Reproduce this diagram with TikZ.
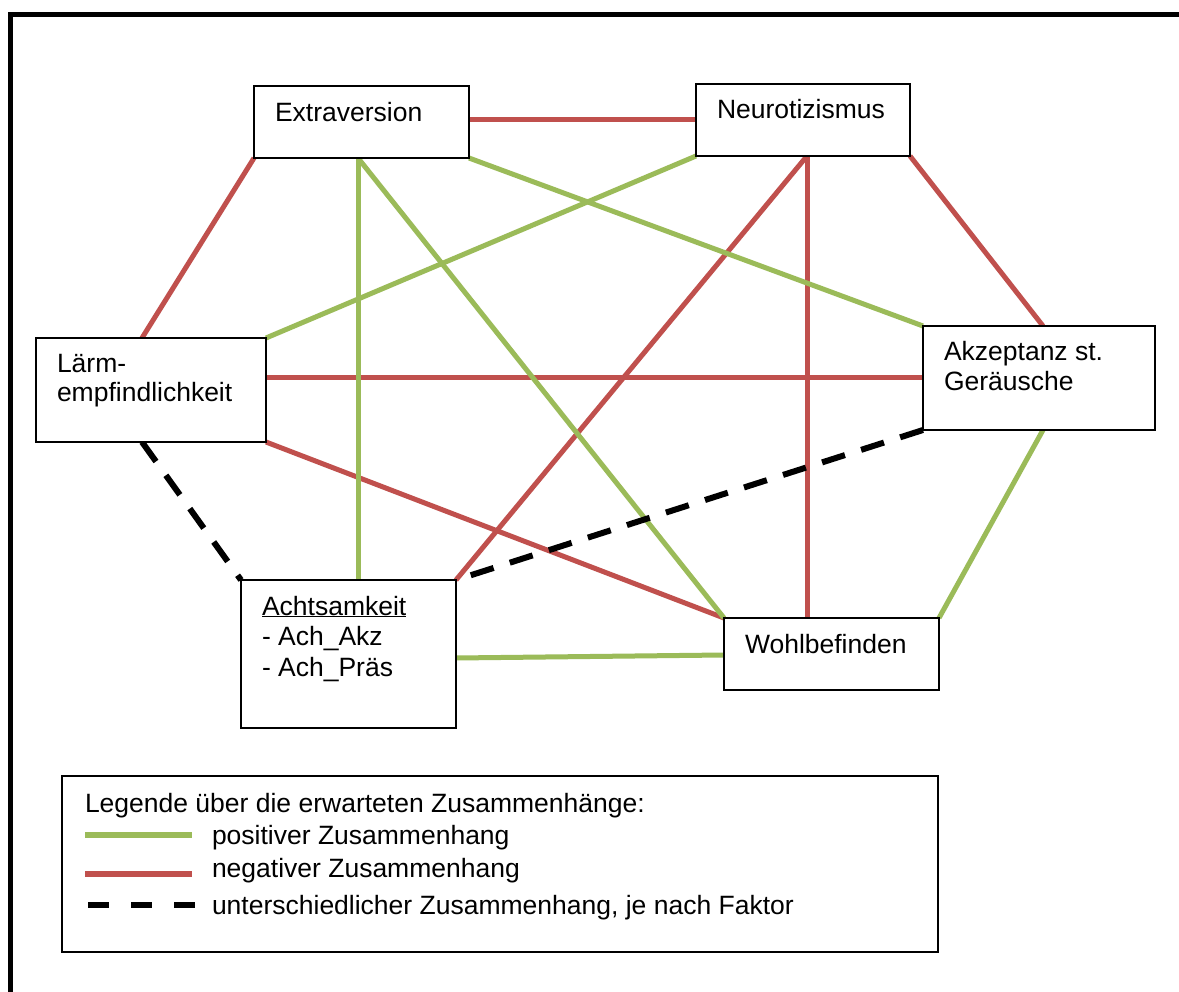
\documentclass[tikz,border=0pt]{standalone}
\usepackage{fontspec}
\setmainfont{Liberation Sans}
\usetikzlibrary{calc}
\definecolor{negred}{HTML}{C0504D}
\definecolor{posgreen}{HTML}{9BBB59}
\begin{document}
\begin{tikzpicture}[x=1pt,y=-1pt,
  box/.style={draw=black, line width=1.3pt, fill=white, inner sep=0pt, outer sep=0pt, rectangle},
  txt/.style={anchor=base west, inner sep=0pt, outer sep=0pt, font=\fontsize{26.5}{30}\selectfont},
  posline/.style={draw=posgreen, line width=5pt},
  negline/.style={draw=negred, line width=5pt},
  mixline/.style={draw=black, line width=6pt, dash pattern=on 24pt off 17pt},
  legpos/.style={draw=posgreen, line width=6pt},
  legneg/.style={draw=negred, line width=5.5pt},
  legmix/.style={draw=black, line width=6pt, dash pattern=on 21pt off 22pt},
  frame/.style={minimum width=#1, inner sep=0pt, outer sep=0pt}
]
\useasboundingbox (0,0) rectangle (1179,992);
\fill[white] (0,0) rectangle (1179,992);
\draw[line width=5pt] (10.5,14.5) rectangle (1195,1010);

\path
  node[frame=215pt, minimum height=72pt] (ext) at (361.5,122) {}
  node[frame=214pt, minimum height=72pt] (neu) at (803,120) {}
  node[frame=230pt, minimum height=104pt] (lae) at (151,390) {}
  node[frame=232pt, minimum height=104pt] (akz) at (1039,378) {}
  node[frame=215pt, minimum height=148pt] (ach) at (348.5,654) {}
  node[frame=215pt, minimum height=72pt] (woh) at (831.5,654) {};

\coordinate (extB) at ($(ext.south)+(-3.5,0)$);
\coordinate (neuB) at ($(neu.south)+(4,0)$);
\coordinate (laeT) at ($(lae.north)+(-9,0)$);
\coordinate (laeB) at ($(lae.south)+(-9,0)$);
\coordinate (akzT) at ($(akz.north)+(4,0)$);
\coordinate (akzB) at ($(akz.south)+(4,0)$);
\coordinate (achR) at ($(ach.east)+(0,4)$);
\coordinate (wohL) at ($(woh.west)+(0,1)$);

% negative (red)
\draw[negline] (ext.east |- neu.west) -- (neu.west);
\draw[negline] (ext.south west) -- (laeT);
\draw[negline] (neu.south east) -- (akzT);
\draw[negline] (akz.west) -- (akz.west -| lae.east);
\draw[negline] (lae.south east) -- (woh.north west);
\draw[negline] (neuB) -- (ach.north east);
\draw[negline] (neuB) -- (neuB |- woh.north);
% positive (green)
\draw[posline] (extB) -- (extB |- ach.north);
\draw[posline] (extB) -- (woh.north west);
\draw[posline] (ext.south east) -- (akz.north west);
\draw[posline] (neu.south west) -- (lae.north east);
\draw[posline] (akzB) -- (woh.north east);
\draw[posline] (achR) -- (wohL);
% mixed (dashed)
\draw[mixline] (laeB) -- (ach.north west);
\draw[mixline] (akz.south west) -- (ach.north east);

% boxes on top
\draw[box] (ext.north west) rectangle (ext.south east);
\draw[box] (neu.north west) rectangle (neu.south east);
\draw[box] (lae.north west) rectangle (lae.south east);
\draw[box] (akz.north west) rectangle (akz.south east);
\draw[box] (ach.north west) rectangle (ach.south east);
\draw[box] (woh.north west) rectangle (woh.south east);

% texts
\node[txt] (extT) at (275,122) {Extraversion};
\node[txt] (neuT) at (717,119) {Neurotizismus};
\node[txt] (laeT1) at (57,373) {Lärm-};
\node[txt] (laeT2) at (57,402) {empfindlichkeit};
\node[txt] (akzT1) at (944,361) {Akzeptanz st.};
\node[txt] (akzT2) at (944,391) {Geräusche};
\node[txt] (achT1) at (262,615) {\underline{Achtsamkeit}};
\node[txt] (achT2) at (262,645) {- Ach\_Akz};
\node[txt] (achT3) at (262,676) {- Ach\_Präs};
\node[txt] (wohT) at (745,653) {Wohlbefinden};

% legend
\node[box, minimum width=876pt, minimum height=176pt] (leg) at (500,864) {};
\node[txt] (legT) at (85,812) {Legende über die erwarteten Zusammenhänge:};
\coordinate (lg1a) at (85,835); \coordinate (lg1b) at (192,835);
\coordinate (lg2a) at (85,874); \coordinate (lg2b) at (192,874);
\coordinate (lg3a) at (88,905); \coordinate (lg3b) at (196,905);
\draw[legpos] (lg1a) -- (lg1b);
\draw[legneg] (lg2a) -- (lg2b);
\draw[legmix] (lg3a) -- (lg3b);
\node[txt] (legP) at (212,844) {positiver Zusammenhang};
\node[txt] (legN) at (212,877) {negativer Zusammenhang};
\node[txt] (legM) at (212,914) {unterschiedlicher Zusammenhang, je nach Faktor};
\end{tikzpicture}
\end{document}
